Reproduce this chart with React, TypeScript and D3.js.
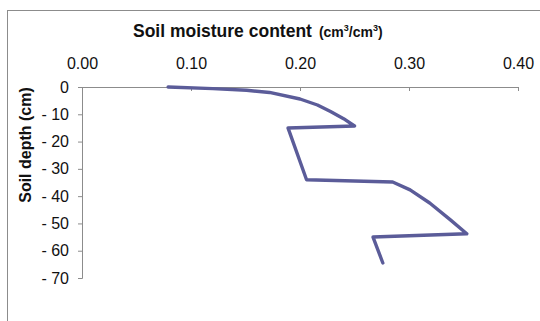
import React, { useRef, useEffect } from 'react'
import * as d3 from 'd3'

// soil moisture profile
const moisture = [0.079, 0.12, 0.151, 0.172, 0.2, 0.216, 0.228, 0.24, 0.25, 0.189, 0.206, 0.285, 0.301, 0.319, 0.338, 0.353, 0.267, 0.276]
const depth = [0, -0.6, -1.2, -2.0, -4.4, -6.6, -9, -11.6, -14.3, -15, -34, -34.8, -37.7, -42.5, -48.7, -53.8, -55, -64.5]

const xTicks = [0, 0.1, 0.2, 0.3, 0.4]
const yTicks = [0, -10, -20, -30, -40, -50, -60, -70]

const W = 540
const H = 321
const font = 'Liberation Sans, Arial, sans-serif'

export default function App() {
  const svgRef = useRef<SVGSVGElement>(null)

  useEffect(() => {
    const svg = d3.select(svgRef.current)
    svg.selectAll('*').remove()

    const x = d3.scaleLinear().domain([0, 0.4]).range([82, 518])
    const y = d3.scaleLinear().domain([0, -70]).range([87, 278])

    // outer frame
    svg.append('rect')
      .attr('x', 7.5).attr('y', 10.5)
      .attr('width', W).attr('height', H)
      .attr('fill', 'none').attr('stroke', '#8c8c8c')

    const xAxis = d3.axisTop(x)
      .tickValues(xTicks)
      .tickSize(-4)
      .tickPadding(18)
      .tickFormat(d => d3.format('.2f')(d as number))

    const gx = svg.append('g')
      .attr('transform', `translate(0,${y(0)})`)
      .call(xAxis)

    const yAxis = d3.axisLeft(y)
      .tickValues(yTicks)
      .tickSize(4)
      .tickPadding(9)
      .tickFormat(d => (d === 0 ? '0' : '- ' + Math.abs(d as number)))

    const gy = svg.append('g')
      .attr('transform', `translate(${x(0)},0)`)
      .call(yAxis)

    for (const g of [gx, gy]) {
      g.select('.domain').attr('stroke', '#8c8c8c')
      g.selectAll('.tick line').attr('stroke', '#8c8c8c')
      g.selectAll('.tick text')
        .attr('fill', '#111')
        .style('font-family', font)
        .style('font-size', '16px')
    }

    const line = d3.line<number>()
      .x(d => x(d))
      .y((d, i) => y(depth[i]))

    svg.append('path')
      .datum(moisture)
      .attr('d', line)
      .attr('fill', 'none')
      .attr('stroke', '#5b5c99')
      .attr('stroke-width', 3.4)
      .attr('stroke-linejoin', 'round')
      .attr('stroke-linecap', 'round')

    // titles
    const t = svg.append('text')
      .attr('x', 133).attr('y', 37)
      .style('font-family', font)
      .style('font-weight', 'bold')
      .style('font-size', '17.5px')
      .attr('fill', '#111')
    t.append('tspan').text('Soil moisture content')
    const u = t.append('tspan').attr('dx', 7).style('font-size', '14px')
    u.append('tspan').text('(cm')
    u.append('tspan').attr('dy', -6).style('font-size', '9px').text('3')
    u.append('tspan').attr('dy', 6).text('/cm')
    u.append('tspan').attr('dy', -6).style('font-size', '9px').text('3')
    u.append('tspan').attr('dy', 6).text(')')

    svg.append('text')
      .attr('transform', 'translate(31,145) rotate(-90)')
      .attr('text-anchor', 'middle')
      .style('font-family', font)
      .style('font-weight', 'bold')
      .style('font-size', '16px')
      .attr('fill', '#111')
      .text('Soil depth (cm)')
  }, [])

  return (
    <svg
      ref={svgRef}
      width={W}
      height={H}
      style={{ position: 'absolute', left: 0, top: 0, background: '#fff' }}
    />
  )
}
